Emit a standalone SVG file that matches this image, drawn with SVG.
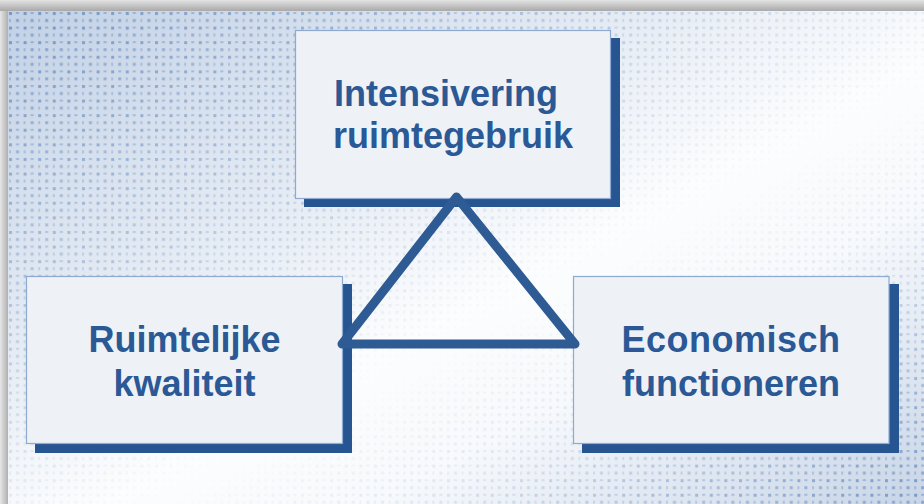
<svg xmlns="http://www.w3.org/2000/svg" width="924" height="504" viewBox="0 0 924 504">
  <style>
    .box { fill: #eef1f6; stroke: #8eaad0; stroke-width: 1.2; }
    .shadow { fill: #265591; }
    .label { font-family: "Liberation Sans", Arial, sans-serif; font-weight: bold; font-size: 36px; fill: #2a5996; text-anchor: middle; }
    .edge { fill: none; stroke: #2e5b93; stroke-width: 9; stroke-linejoin: round; stroke-linecap: round; }
  </style>
  <defs>
    <linearGradient id="topBand" x1="0" y1="0" x2="0" y2="1">
      <stop offset="0" stop-color="#e2e2e2"/>
      <stop offset="1" stop-color="#a9a9a9"/>
    </linearGradient>
    <linearGradient id="leftBand" x1="0" y1="0" x2="1" y2="0">
      <stop offset="0" stop-color="#e6e6e6"/>
      <stop offset="1" stop-color="#b0b0b0"/>
    </linearGradient>
    <linearGradient id="slideBg" x1="0" y1="0" x2="1" y2="1">
      <stop offset="0" stop-color="#c2d1e6"/>
      <stop offset="0.35" stop-color="#e6ecf4"/>
      <stop offset="0.55" stop-color="#fcfdfe"/>
      <stop offset="0.7" stop-color="#f7f9fc"/>
      <stop offset="1" stop-color="#c8d5e7"/>
    </linearGradient>
    <linearGradient id="dotFade" x1="0" y1="0" x2="1" y2="1">
      <stop offset="0" stop-color="#fff"/>
      <stop offset="0.4" stop-color="#555"/>
      <stop offset="0.58" stop-color="#000"/>
      <stop offset="0.72" stop-color="#333"/>
      <stop offset="1" stop-color="#fff"/>
    </linearGradient>
    <pattern id="dots" x="8" y="11" width="14.6" height="14.6" patternUnits="userSpaceOnUse">
      <rect x="1" y="1" width="3" height="3" fill="#5b82b8"/>
      <rect x="8" y="1" width="3" height="2" fill="#7d9cc6"/>
      <rect x="1" y="8" width="2" height="3" fill="#8aa6cc"/>
      <rect x="8" y="8" width="3" height="3" fill="#6d90c0"/>
    </pattern>
    <mask id="dotMask" maskUnits="userSpaceOnUse" x="8" y="11" width="916" height="493">
      <rect x="8" y="11" width="916" height="493" fill="url(#dotFade)"/>
    </mask>
  </defs>

  <!-- slide background -->
  <rect x="0" y="0" width="924" height="504" fill="#ffffff"/>
  <rect x="8" y="11" width="916" height="493" fill="url(#slideBg)"/>
  <rect x="8" y="11" width="916" height="493" fill="url(#dots)" mask="url(#dotMask)" opacity="0.75"/>
  <rect x="0" y="0" width="924" height="11" fill="url(#topBand)"/>
  <rect x="0" y="11" width="8" height="493" fill="url(#leftBand)"/>

  <!-- top node -->
  <g id="node-intensivering">
    <rect class="shadow" x="304" y="38" width="316" height="169"/>
    <rect class="box" x="295.5" y="30.5" width="315" height="168"/>
    <text class="label"><tspan x="446" y="106">Intensivering</tspan><tspan x="453" y="148">ruimtegebruik</tspan></text>
  </g>

  <!-- left node -->
  <g id="node-ruimtelijke">
    <rect class="shadow" x="35" y="284" width="317" height="169"/>
    <rect class="box" x="26.5" y="276.5" width="316" height="167"/>
    <text class="label"><tspan x="184.5" y="352">Ruimtelijke</tspan><tspan x="184.5" y="396">kwaliteit</tspan></text>
  </g>

  <!-- right node -->
  <g id="node-economisch">
    <rect class="shadow" x="582" y="284" width="317" height="169"/>
    <rect class="box" x="573.5" y="276.5" width="315.5" height="167"/>
    <text class="label"><tspan x="731" y="352" letter-spacing="0.5">Economisch</tspan><tspan x="731" y="396">functioneren</tspan></text>
  </g>

  <!-- connectors: triangle linking the three nodes -->
  <g id="connectors">
    <path class="edge" d="M456.5 197 L575 344 L342 344 Z"/>
  </g>
</svg>
